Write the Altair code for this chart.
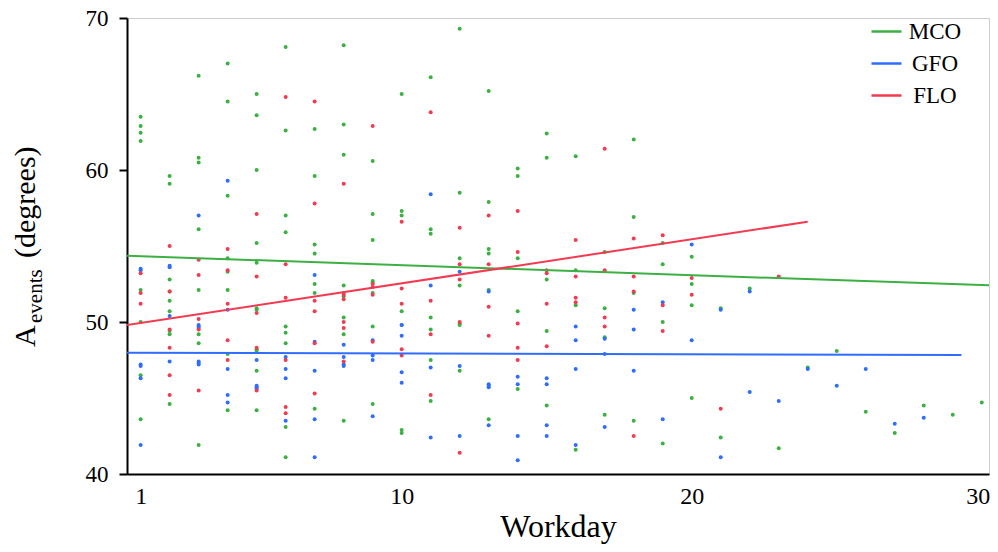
import altair as alt
import pandas as pd

# ---- data ----
series_names = ["MCO", "GFO", "FLO"]
series_colors = ["#3cb043", "#2f6cff", "#f23b52"]

mco_days = list(range(1, 31))
mco_values = [
    [63.5, 62.9, 62.45, 61.9, 52.1, 50.0, 46.5, 43.6],
    [59.6, 59.1, 52.8, 52.0, 51.4, 50.7, 49.4, 49.2, 44.6],
    [66.2, 60.8, 60.5, 56.1, 52.1, 49.2, 48.6, 41.9],
    [67.0, 64.5, 58.3, 54.2, 53.3, 52.1, 47.9, 44.2],
    [65.0, 63.6, 60.0, 55.2, 53.9, 50.9, 50.8, 48.2, 48.1, 46.8, 44.2],
    [68.1, 62.6, 57.0, 55.9, 49.7, 49.3, 48.6, 43.1, 41.1],
    [62.7, 59.6, 55.1, 54.5, 52.5, 51.9, 44.3],
    [68.2, 63.0, 61.0, 52.4, 51.9, 51.7, 50.3, 49.2, 43.5],
    [60.6, 57.1, 55.4, 52.7, 52.6, 51.9, 49.7, 44.6],
    [65.0, 57.3, 57.0, 50.7, 49.8, 42.9, 42.7],
    [66.1, 56.1, 55.8, 50.3, 49.5, 47.5, 44.8],
    [69.3, 58.5, 54.2, 52.4, 49.9, 49.8, 46.8],
    [65.2, 57.9, 54.8, 54.5, 52.1, 43.6],
    [60.1, 59.6, 54.2, 50.7, 45.6],
    [62.4, 60.8, 52.8, 49.4, 44.5],
    [60.9, 53.4, 51.1, 41.6],
    [54.6, 50.9, 49.0, 43.9],
    [62.0, 56.9, 51.9, 43.5],
    [55.2, 53.8, 50.0, 42.0],
    [54.3, 52.5, 51.1, 45.0],
    [50.9, 42.4],
    [52.2],
    [41.7],
    [47.0],
    [48.1],
    [44.1],
    [42.7],
    [44.5],
    [43.9],
    [44.7],
]

gfo_days = list(range(1, 29))
gfo_values = [
    [53.5, 53.4, 47.2, 47.1, 46.3, 41.9],
    [53.7, 53.6, 50.4, 47.4],
    [57.0, 49.8, 49.7, 49.6, 47.4, 47.3, 47.2],
    [59.3, 50.8, 46.9, 45.2, 44.7],
    [47.5, 45.8, 45.7, 45.6],
    [47.7, 46.9, 46.3, 43.5],
    [53.1, 48.7, 46.8, 43.6, 41.1],
    [48.5, 47.7, 47.2, 47.1],
    [48.8, 47.8, 47.5, 43.8],
    [49.8, 49.1, 46.7, 46.0],
    [58.4, 52.4, 47.0, 42.4],
    [53.3, 47.1, 42.5],
    [52.0, 45.9, 45.8, 45.7, 43.2],
    [46.4, 45.9, 42.5, 40.9],
    [46.3, 45.9, 43.2, 42.5],
    [49.7, 48.8, 46.9, 41.9],
    [48.9, 47.9, 43.1],
    [50.8, 49.5, 46.8],
    [51.3, 43.6],
    [55.1, 48.8],
    [50.8, 41.1],
    [52.0, 45.4],
    [44.8],
    [46.9],
    [45.8],
    [46.9],
    [43.3],
    [43.7],
]

flo_days = list(range(1, 22)) + [23]
flo_values = [
    [53.2, 51.9, 51.2],
    [55.0, 52.0, 49.5, 48.3, 46.5, 45.2],
    [54.1, 53.1, 50.2, 49.5, 45.5],
    [54.8, 53.4, 51.2, 48.8, 47.5],
    [57.1, 53.0, 50.6, 48.3, 45.5],
    [64.8, 53.8, 51.6, 47.5, 44.4, 44.0],
    [64.5, 57.8, 51.4, 50.7, 48.6, 45.3],
    [59.1, 51.8, 51.5, 50.0, 49.6, 47.4],
    [62.9, 52.5, 52.3, 51.8, 48.7],
    [56.6, 52.2, 51.2, 48.2, 47.8],
    [63.8, 51.4, 49.2, 45.2],
    [56.2, 53.8, 52.8, 50.0, 41.4],
    [57.0, 53.8, 51.0, 49.1],
    [57.3, 54.6, 49.9, 48.3, 47.5],
    [53.4, 53.2, 51.2, 48.4],
    [55.4, 53.0, 51.6, 51.3],
    [61.4, 53.4, 50.3, 49.7],
    [55.5, 53.0, 52.0, 42.5],
    [55.7, 51.1, 49.4],
    [52.9, 51.8],
    [44.3],
    [53.0],
]

# trend line end points (workday, degrees)
trend_x_start = [0.53, 0.53, 0.53]
trend_x_end = [30.4, 29.3, 24.0]
trend_y_start = [54.36, 47.98, 49.8]
trend_y_end = [52.4, 47.83, 56.6]

x_ticks = [1, 10, 20, 30]
y_ticks = [40, 50, 60, 70]

# ---- build tables ----
rows = []
for name, days, vals in [("MCO", mco_days, mco_values),
                         ("GFO", gfo_days, gfo_values),
                         ("FLO", flo_days, flo_values)]:
    for d, vs in zip(days, vals):
        for v in vs:
            rows.append({"series": name, "day": d, "value": v})
points_df = pd.DataFrame(rows)

line_rows = []
for i, name in enumerate(series_names):
    line_rows.append({"series": name, "day": trend_x_start[i], "value": trend_y_start[i]})
    line_rows.append({"series": name, "day": trend_x_end[i], "value": trend_y_end[i]})
lines_df = pd.DataFrame(line_rows)

FONT = "Liberation Serif"

x_scale = alt.Scale(domain=[0.53, 30.25], nice=False, zero=False)
y_scale = alt.Scale(domain=[40, 70], nice=False, zero=False)
color_scale = alt.Scale(domain=series_names, range=series_colors)

x_axis = alt.Axis(values=x_ticks, ticks=False, grid=False, domainColor="black",
                  domainWidth=2, labelFont=FONT, labelFontSize=24, labelColor="black",
                  labelPadding=10, labelFlush=10, labelFlushOffset=8,
                  title="Workday", titleFont=FONT, titleFontSize=32,
                  titleFontWeight="normal", titleColor="black", titlePadding=3)
y_axis = alt.Axis(values=y_ticks, grid=False, domainColor="black", domainWidth=2,
                  tickColor="black", tickWidth=2, tickSize=8, labelFont=FONT,
                  labelFontSize=23, labelColor="black", labelPadding=11, title="")

points = alt.Chart(points_df).mark_circle(size=16, opacity=1).encode(
    x=alt.X("day:Q", scale=x_scale, axis=x_axis),
    y=alt.Y("value:Q", scale=y_scale, axis=y_axis),
    color=alt.Color("series:N", scale=color_scale, legend=None),
)

lines = alt.Chart(lines_df).mark_line(strokeWidth=2, clip=True).encode(
    x=alt.X("day:Q", scale=x_scale),
    y=alt.Y("value:Q", scale=y_scale),
    color=alt.Color("series:N", scale=color_scale,
                    legend=alt.Legend(orient="none", legendX=743, legendY=-3, title=None,
                                      symbolType="stroke", symbolSize=900,
                                      symbolStrokeWidth=2.5, labelFont=FONT,
                                      labelFontSize=23, labelColor="black",
                                      labelAlign="center", labelOffset=32,
                                      rowPadding=3, padding=0)),
    detail="series:N",
)

def title_part(text, x, y, size):
    return alt.Chart(pd.DataFrame({"t": [text]})).mark_text(
        angle=270, align="left", baseline="alphabetic", font=FONT,
        fontSize=size, color="black").encode(
        text="t:N", x=alt.value(x), y=alt.value(y))

t1 = title_part("A", -92, 329, 30)
t2 = title_part("events", -85, 305, 21)
t3 = title_part("(degrees)", -92, 240, 30)

chart = alt.layer(points, lines, t1, t2, t3).resolve_scale(color="independent").properties(
    width=862, height=456,
    padding={"left": 119, "top": 10, "right": 1, "bottom": 70},
    autosize=alt.AutoSizeParams(type="none"),
).configure_view(stroke="#cccccc", strokeWidth=1)

chart.save("out.html", embed_options={"renderer": "svg", "actions": False})
